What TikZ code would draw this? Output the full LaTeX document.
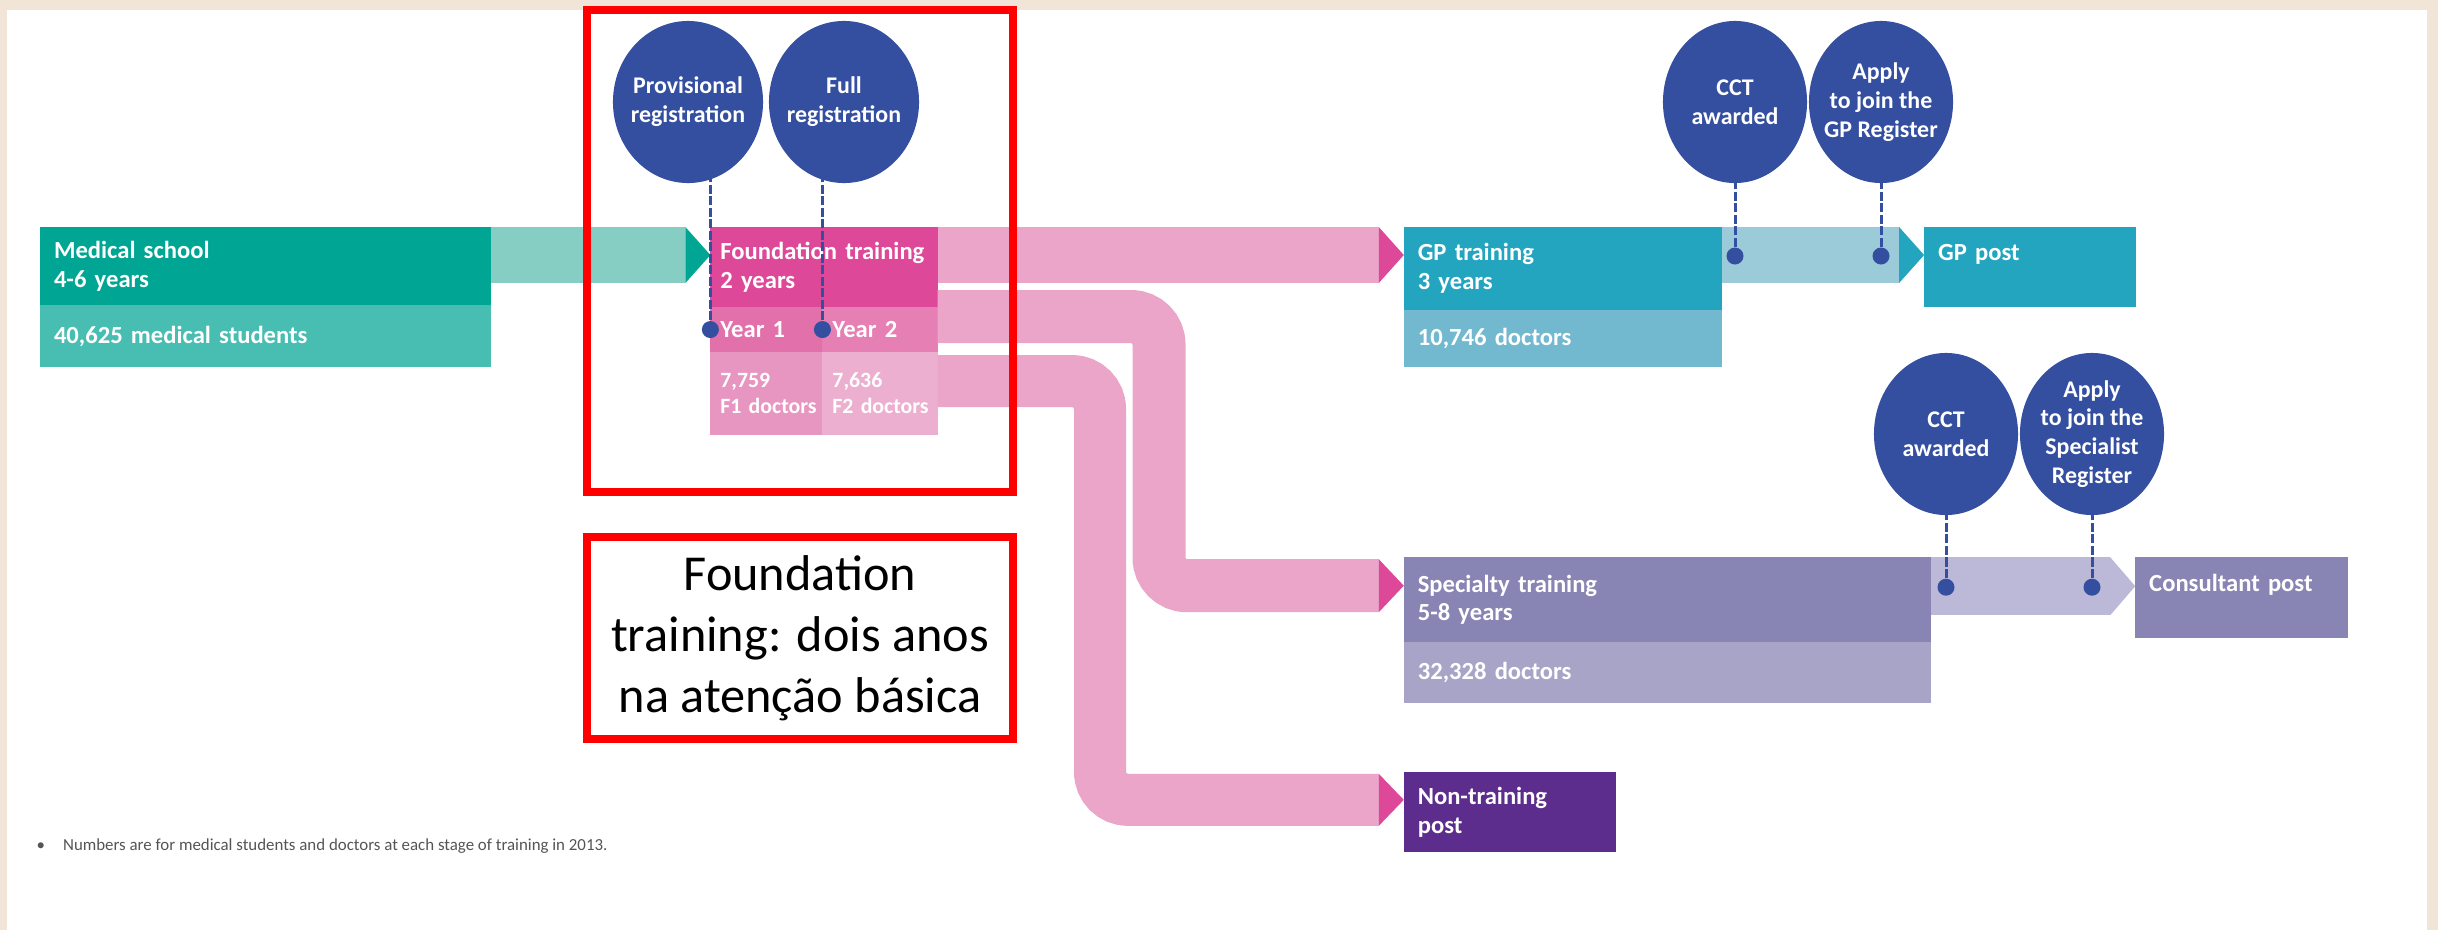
\documentclass[tikz,border=0pt]{standalone}
\usepackage{fontspec}
\setmainfont{Carlito}
\usepackage{xcolor}
\usepackage{tikz}
\usetikzlibrary{positioning}
\usetikzlibrary{arrows.meta, shapes.geometric}

\definecolor{pagebg}{RGB}{241,229,216}
\definecolor{msdark}{RGB}{0,166,147}
\definecolor{mslight}{RGB}{72,190,178}
\definecolor{msband}{RGB}{134,205,196}
\definecolor{fddark}{RGB}{222,72,152}
\definecolor{fdyearA}{RGB}{226,112,170}
\definecolor{fdyearB}{RGB}{229,127,180}
\definecolor{fdnumA}{RGB}{231,150,193}
\definecolor{fdnumB}{RGB}{236,175,208}
\definecolor{fdband}{RGB}{234,165,201}
\definecolor{gpdark}{RGB}{35,165,192}
\definecolor{gplight}{RGB}{114,184,206}
\definecolor{gpband}{RGB}{155,203,216}
\definecolor{spdark}{RGB}{136,133,180}
\definecolor{splight}{RGB}{167,164,200}
\definecolor{spband}{RGB}{187,185,215}
\definecolor{ntdark}{RGB}{93,45,141}
\definecolor{regblue}{RGB}{52,79,160}
\definecolor{notered}{RGB}{255,0,0}
\definecolor{footgrey}{RGB}{85,85,85}

\tikzset{
    stage/.style={rectangle, anchor=north west, outer sep=0pt, inner xsep=1.4mm, inner ysep=0pt,
        align=left, text=white, font=\fontsize{7}{8.2}\selectfont\bfseries},
    cell/.style={stage, inner xsep=1mm},
    reg/.style={ellipse, fill=regblue, text=white, inner sep=-1mm, minimum width=1.5cm,
        minimum height=1.62cm, align=center, font=\fontsize{6.8}{8.2}\selectfont\bfseries},
    pin/.style={circle, fill=regblue, inner sep=0pt, minimum size=1.7mm},
    stem/.style={draw=regblue, line width=0.3mm, dash pattern=on 0.9mm off 0.25mm},
    flow/.style={line width=5.6mm, rounded corners=2.8mm},
    headin/.style 2 args={-{Triangle[length=2.5mm, width=#2, line width=0pt, color=#1]}},
    redframe/.style={draw=notered, line width=0.8mm},
    rednote/.style={redframe, fill=white, inner sep=0pt, minimum width=4.26cm, minimum height=2.02cm,
        align=center, font=\fontsize{14.3}{17.4}\selectfont},
    footnote/.style={text=footgrey, inner sep=0pt, font=\fontsize{4.8}{5.8}\selectfont},
}

\begin{document}
\begin{tikzpicture}[x=0.01cm, y=-0.01cm]
        \useasboundingbox (0,0) rectangle (2438,930);
        \fill[pagebg] (0,0) rectangle (2438,930);
        \fill[white] (7,10) rectangle (2427,930);

        % stages
        \node[stage, fill=msdark, text width=4.23cm, minimum width=4.51cm, minimum height=0.78cm] (mstop) at (40,227) {Medical school\\4-6 years};
        \node[stage, fill=mslight, text width=4.23cm, minimum width=4.51cm, minimum height=0.62cm, below right=0pt of mstop.south west] (msbot) {40,625 medical students};

        \node[cell, fill=fddark, text width=2.07cm, minimum width=2.27cm, minimum height=0.8cm, below right=0pt and 2.19cm of mstop.north east] (fdtop) {Foundation training\\2 years};
        \node[cell, fill=fdyearA, text width=0.92cm, minimum width=1.12cm, minimum height=0.45cm, below right=0pt of fdtop.south west] (fdyr1) {Year 1};
        \node[cell, fill=fdyearB, text width=0.95cm, minimum width=1.15cm, minimum height=0.45cm, right=0pt of fdyr1] (fdyr2) {Year 2};
        \node[cell, fill=fdnumA, font=\fontsize{6.2}{7.4}\selectfont\bfseries, text width=0.92cm, minimum width=1.12cm, minimum height=0.83cm, below right=0pt of fdyr1.south west] (fdnum1) {7,759\\\mbox{F1 doctors}};
        \node[cell, fill=fdnumB, font=\fontsize{6.2}{7.4}\selectfont\bfseries, text width=0.95cm, minimum width=1.15cm, minimum height=0.83cm, right=0pt of fdnum1] (fdnum2) {7,636\\\mbox{F2 doctors}};

        \node[stage, fill=gpdark, text width=2.9cm, minimum width=3.18cm, minimum height=0.83cm, below right=0pt and 4.66cm of fdtop.north east] (gptop) {GP training\\3 years};
        \node[stage, fill=gplight, text width=2.9cm, minimum width=3.18cm, minimum height=0.57cm, below right=0pt of gptop.south west] (gpbot) {10,746 doctors};
        \node[stage, fill=gpdark, text width=1.84cm, minimum width=2.12cm, minimum height=0.8cm, below right=0pt and 2.02cm of gptop.north east] (gppost) {GP post\\\mbox{}};

        \node[stage, fill=spdark, text width=4.99cm, minimum width=5.27cm, minimum height=0.85cm, below right=3.3cm and 0pt of gptop.north west] (sptop) {Specialty training\\5-8 years};
        \node[stage, fill=splight, text width=4.99cm, minimum width=5.27cm, minimum height=0.61cm, below right=0pt of sptop.south west] (spbot) {32,328 doctors};
        \node[stage, fill=spdark, text width=1.85cm, minimum width=2.13cm, minimum height=0.81cm, below right=0pt and 2.04cm of sptop.north east] (conpost) {Consultant post\\\mbox{}};

        \node[stage, fill=ntdark, text width=1.84cm, minimum width=2.12cm, minimum height=0.8cm, below right=2.15cm and 0pt of sptop.north west] (ntpost) {Non-training\\post};

        % flows
        \draw[flow, msband, headin={msdark}{5.6mm}] ([yshift=-2.8mm]mstop.north east) -- ([yshift=-2.8mm]fdtop.north west);
        \draw[flow, fdband, headin={fddark}{5.6mm}] ([yshift=-2.8mm]fdtop.north east) -- ([yshift=-2.8mm]gptop.north west);
        \draw[flow, gpband, headin={gpdark}{5.6mm}] ([yshift=-2.8mm]gptop.north east) -- ([yshift=-2.8mm]gppost.north west);
        \draw[flow, fdband, line width=5.3mm, headin={fddark}{5.3mm}] ([yshift=-0.95mm]fdyr2.north east) -- ++(221.5,0) |- ([yshift=-2.85mm]sptop.north west);
        \draw[flow, fdband, line width=5.2mm, headin={fddark}{5.2mm}] ([yshift=-2.9mm]fdnum2.north east) -- ++(162.5,0) |- ([yshift=-2.75mm]ntpost.north west);
        \draw[flow, spband, line width=5.8mm, headin={spband}{5.8mm}] ([yshift=-2.9mm]sptop.north east) -- ([yshift=-2.9mm]conpost.north west);

        % registration milestones
        \node[reg] (prov) at (688,102) {Provisional\\registration};
        \node[reg] (full) at (844,102) {Full\\registration};
        \node[reg, minimum width=1.44cm] (gpcct) at (1735,102) {CCT\\awarded};
        \node[reg, minimum width=1.44cm] (gpapply) at (1881,102) {Apply\\to join the\\GP Register};
        \node[reg, minimum width=1.44cm] (spcct) at (1946,434) {CCT\\awarded};
        \node[reg, minimum width=1.44cm] (spapply) at (2092,434) {Apply\\to join the\\Specialist\\Register};

        \node[pin] (pd1) at (fdyr1.west) {};
        \node[pin] (pd2) at (fdyr1.east) {};
        \node[pin, yshift=-2.9mm] (gd1) at (gpcct |- gptop.north) {};
        \node[pin, yshift=-2.9mm] (gd2) at (gpapply |- gptop.north) {};
        \node[pin, yshift=-3mm] (sd1) at (spcct |- sptop.north) {};
        \node[pin, yshift=-3mm] (sd2) at (spapply |- sptop.north) {};

        \foreach \d/\c in {pd1/prov, pd2/full, gd1/gpcct, gd2/gpapply, sd1/spcct, sd2/spapply}
            \draw[stem] (\d) -- (\d |- \c.south) -- ++(0,-6);

        % highlight
        \draw[redframe] (587,10) rectangle (1013,492);
        \node[rednote] (note) at (800,638) {Foundation\\training: dois anos\\na atenção básica};

        \node[footnote, anchor=west] (fn) at (36,846) {\textbullet\hspace{1.8mm}Numbers are for medical students and doctors at each stage of training in 2013.};
    \end{tikzpicture}
\end{document}
